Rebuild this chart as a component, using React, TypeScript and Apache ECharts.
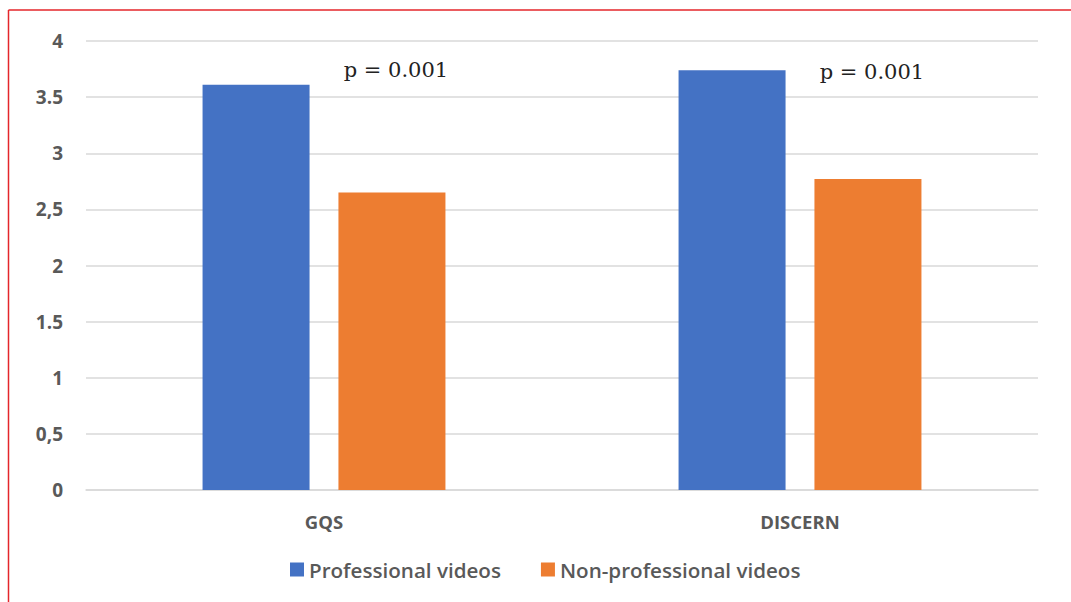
import React, { useEffect, useRef } from "react";
import * as echarts from "echarts";

const categories = ["GQS", "DISCERN"];
const professional = [3.61, 3.74];
const nonProfessional = [2.65, 2.77];
const seriesNames = ["Professional videos", "Non-professional videos"];
const pLabels = ["p = 0.001", "p = 0.001"];
const pLabelValue = [3.74, 3.72];
const tickValues = [0, 0.5, 1, 1.5, 2, 2.5, 3, 3.5, 4];
const tickLabels = ["0", "0,5", "1", "1.5", "2", "2,5", "3", "3.5", "4"];

export default function App() {
  const ref = useRef<HTMLDivElement>(null);
  useEffect(() => {
    if (!ref.current) return;
    const chart = echarts.init(ref.current, undefined, { renderer: "svg" });
    const textColor = "#595959";
    const font = "'Open Sans', 'Noto Sans', sans-serif";
    chart.setOption({
      animation: false,
      backgroundColor: "#ffffff",
      grid: { left: 86, right: 33, top: 41, bottom: 112, containLabel: false },
      legend: {
        bottom: 22,
        left: 290,
        padding: 0,
        itemWidth: 14,
        itemHeight: 14,
        itemGap: 40,
        icon: "rect",
        textStyle: { color: textColor, fontSize: 20.6, fontWeight: 600, fontFamily: font },
        data: seriesNames,
      },
      xAxis: {
        type: "category",
        data: categories,
        axisLine: { lineStyle: { color: "#d9d9d9", width: 1.5 } },
        axisTick: { show: false },
        axisLabel: { color: textColor, fontSize: 18.5, fontWeight: 700, fontFamily: font, margin: 22 },
      },
      yAxis: {
        type: "value",
        min: 0,
        max: 4,
        interval: 0.5,
        axisLine: { show: false },
        axisTick: { show: false },
        splitLine: { lineStyle: { color: "#d9d9d9", width: 1.5 } },
        axisLabel: {
          color: textColor,
          fontSize: 19,
          fontWeight: 700,
          fontFamily: font,
          margin: 23,
          formatter: (v: number) => {
            const i = tickValues.indexOf(v);
            return i >= 0 ? tickLabels[i] : String(v);
          },
        },
      },
      series: [
        {
          name: seriesNames[0],
          type: "bar",
          data: professional,
          barWidth: 107,
          barGap: "27%",
          itemStyle: { color: "#4472C4" },
        },
        {
          name: seriesNames[1],
          type: "bar",
          data: nonProfessional,
          barWidth: 107,
          barGap: "27%",
          itemStyle: { color: "#ED7D31" },
          markPoint: {
            symbol: "rect",
            symbolSize: 1,
            itemStyle: { color: "rgba(0,0,0,0)" },
            label: {
              show: true,
              position: "inside",
              color: "#222222",
              fontSize: 21,
              fontFamily: "'DejaVu Serif', 'Liberation Serif', serif",
              formatter: (p: any) => p.name,
              offset: [4, 0],
            },
            data: categories.map((c, i) => ({
              name: pLabels[i],
              coord: [c, pLabelValue[i]],
            })),
          },
        },
      ],
      graphic: [
        { type: "line", shape: { x1: 8.5, y1: 10, x2: 1071, y2: 10 }, style: { stroke: "#e4262b", lineWidth: 1.5 } },
        { type: "line", shape: { x1: 8.5, y1: 10, x2: 8.5, y2: 602 }, style: { stroke: "#e4262b", lineWidth: 1.5 } },
      ],
    });
    return () => chart.dispose();
  }, []);
  return (
    <div
      ref={ref}
      style={{ position: "fixed", left: 0, top: 0, width: 1071, height: 602 }}
    />
  );
}
